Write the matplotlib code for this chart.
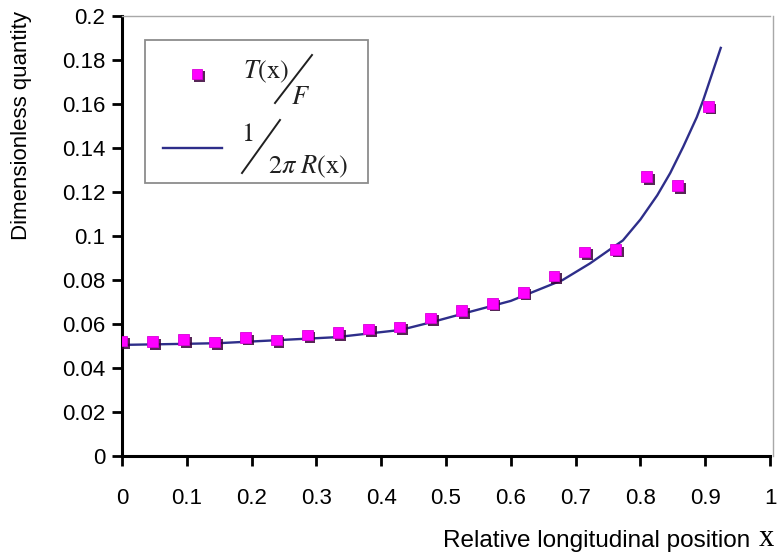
import matplotlib
matplotlib.use("Agg")
import matplotlib.pyplot as plt
import matplotlib.patheffects as pe
from matplotlib.lines import Line2D
from matplotlib.patches import Rectangle

# ---- data ----
x_meas = [0, 1/21, 2/21, 3/21, 4/21, 5/21, 6/21, 7/21, 8/21, 9/21, 10/21,
          11/21, 12/21, 13/21, 14/21, 15/21, 16/21, 17/21, 18/21, 19/21]
t_over_f = [0.0523, 0.0520, 0.0530, 0.0518, 0.0540, 0.0527, 0.0550, 0.0560,
            0.0577, 0.0586, 0.0627, 0.0660, 0.0695, 0.0745, 0.0818, 0.0927,
            0.0940, 0.1270, 0.1230, 0.1590]

x_curve = [0, 0.1, 0.15, 0.25, 0.33, 0.43, 0.48, 0.53, 0.6, 0.68, 0.722,
           0.773, 0.80, 0.826, 0.846, 0.866, 0.887, 0.897, 0.924]
inv_2piR = [0.0505, 0.0510, 0.0513, 0.0528, 0.0540, 0.0573, 0.0610, 0.0650,
            0.0705, 0.0800, 0.0875, 0.0980, 0.1075, 0.1185, 0.1286, 0.1405,
            0.1540, 0.1618, 0.1855]

x_ticks = [0, 0.1, 0.2, 0.3, 0.4, 0.5, 0.6, 0.7, 0.8, 0.9, 1]
x_ticklabels = ["0", "0.1", "0.2", "0.3", "0.4", "0.5", "0.6", "0.7", "0.8", "0.9", "1"]
y_ticks = [0, 0.02, 0.04, 0.06, 0.08, 0.1, 0.12, 0.14, 0.16, 0.18, 0.2]
y_ticklabels = ["0", "0.02", "0.04", "0.06", "0.08", "0.1", "0.12", "0.14", "0.16", "0.18", "0.2"]

xlabel = "Relative longitudinal position "
ylabel = "Dimensionless quantity"

# ---- style ----
plt.rcParams["font.family"] = ["Liberation Sans", "DejaVu Sans"]
plt.rcParams["mathtext.fontset"] = "stix"

W, H = 783, 557
def P(x, y):
    return (x / W, 1 - y / H)

fig = plt.figure(figsize=(W/100, H/100), dpi=100)
ax = fig.add_axes([122/W, 1-456/H, (770-122)/W, (456-16)/H])

line_color = "#2E2E8A"
mk = dict(ls="none", marker="s", ms=7.8, mfc="#FF00FF", mec="#D800D8", mew=0.6)
shadow = [pe.SimplePatchShadow(offset=(2, -2), shadow_rgbFace="#3A003A", alpha=0.85),
          pe.Normal()]

ax.plot(x_curve, inv_2piR, color=line_color, lw=1.7, zorder=2)
ax.plot(x_meas, t_over_f, zorder=3, path_effects=shadow, **mk)

ax.set_xlim(0, 1)
ax.set_ylim(0, 0.2)
ax.set_xticks(x_ticks)
ax.set_xticklabels(x_ticklabels)
ax.set_yticks(y_ticks)
ax.set_yticklabels(y_ticklabels)
ax.tick_params(axis="both", direction="out", length=7, width=2, labelsize=16, color="black")
ax.tick_params(axis="x", pad=16)
ax.tick_params(axis="y", pad=5)

for s in ["left", "bottom"]:
    ax.spines[s].set_linewidth(2.2)
    ax.spines[s].set_color("black")
for s in ["top", "right"]:
    ax.spines[s].set_color("#A8A8A8")
    ax.spines[s].set_linewidth(1)
ax.spines["right"].set_position(("axes", 1.004))

ax.set_ylabel(ylabel, fontsize=16)
ax.yaxis.set_label_coords(-(122 - 32) / 648, (456 - 126) / 440)
fig.text(*P(757, 541), xlabel, ha="right", va="center", fontsize=17.5)
fig.text(*P(759, 539), "x", ha="left", va="center", fontsize=22,
         family="Liberation Serif")

# ---- legend (drawn in figure pixel coordinates) ----
tf = fig.transFigure
x0, y0 = P(145, 183)
x1, y1 = P(368, 40)
fig.patches.append(Rectangle((x0, y0), x1 - x0, y1 - y0, transform=tf,
                             facecolor="white", edgecolor="#8C8C8C", lw=1.3, zorder=5))
fig.lines.append(Line2D([P(163, 0)[0], P(222, 0)[0]], [P(0, 148)[1]] * 2,
                        transform=tf, color=line_color, lw=1.7, zorder=6))
fig.lines.append(Line2D([P(197, 0)[0]], [P(0, 74)[1]], transform=tf, zorder=6,
                        path_effects=shadow, **mk))
fs_leg = 19
txt_color = "#202020"
fig.text(*P(266, 72), r"$T(\mathrm{x})$", ha="center", va="center",
         fontsize=fs_leg, color=txt_color, zorder=7)
fig.text(*P(301, 97), r"$F$", ha="center", va="center",
         fontsize=fs_leg, color=txt_color, zorder=7)
fig.text(*P(247, 134), r"$1$", ha="center", va="center",
         fontsize=fs_leg, color=txt_color, zorder=7)
fig.text(*P(308, 167), r"$2\pi\ R(\mathrm{x})$", ha="center", va="center",
         fontsize=fs_leg, color=txt_color, zorder=7)
for (a, b), (c, d) in [((275, 103), (312, 55)), ((242, 173), (280, 120))]:
    fig.lines.append(Line2D([P(a, 0)[0], P(c, 0)[0]], [P(0, b)[1], P(0, d)[1]],
                            transform=tf, color=txt_color, lw=1.4, zorder=7))

fig.savefig("out.png", dpi=100)
